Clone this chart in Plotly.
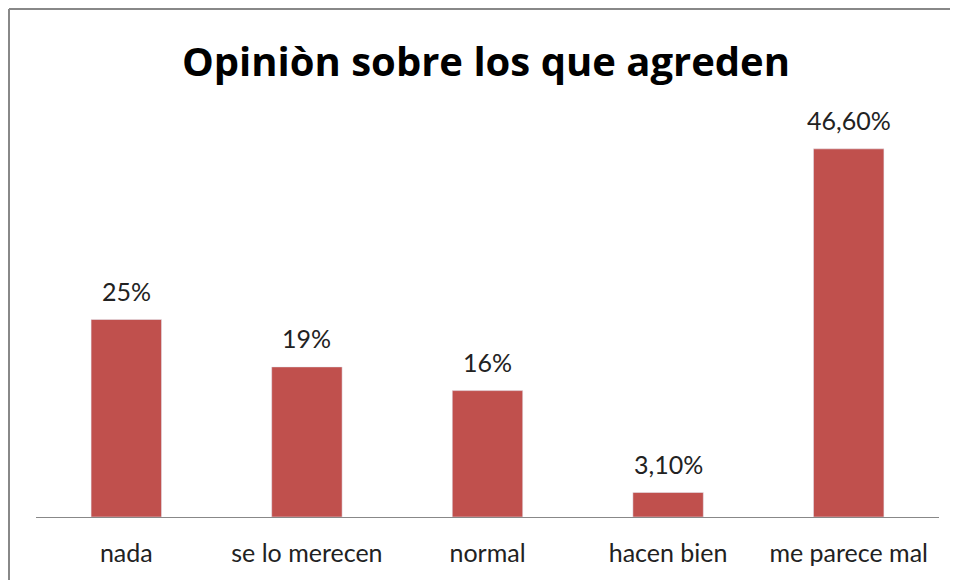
import plotly.graph_objects as go

categories = ["nada", "se lo merecen", "normal", "hacen bien", "me parece mal"]
values = [25, 19, 16, 3.1, 46.6]
labels = ["25%", "19%", "16%", "3,10%", "46,60%"]

FONT = "Lato"
W, H = 958, 580
ML, MR, MT, MB = 28, 27, 114, 71
PW, PH = W - ML - MR, H - MT - MB

fig = go.Figure()
fig.add_trace(go.Bar(
    x=categories, y=values,
    marker_color="#C0504D", width=0.39,
))
for c, v, t in zip(categories, values, labels):
    fig.add_annotation(x=c, y=v, text=t, showarrow=False, yanchor="bottom",
                       yshift=12, font=dict(family=FONT, size=25, color="#222222"))

bx = -(ML - 1) / PW
ty = 1 + (MT - 1) / PH
fig.update_layout(
    width=W, height=H,
    margin=dict(l=ML, r=MR, t=MT, b=MB),
    paper_bgcolor="white", plot_bgcolor="white",
    showlegend=False,
    title=dict(text="<b>Opiniòn sobre los que agreden</b>", x=478 / W, xanchor="center",
               y=1 - 54 / H, yanchor="middle",
               font=dict(family="Open Sans", size=40, color="black")),
    xaxis=dict(showline=True, linecolor="#888888", linewidth=1, ticks="",
               ticklabelstandoff=14,
               tickfont=dict(family=FONT, size=25, color="#222222")),
    yaxis=dict(range=[0, 50], visible=False),
    shapes=[
        dict(type="line", xref="paper", yref="paper", x0=bx, x1=1.1, y0=ty, y1=ty,
             line=dict(color="#888888", width=2)),
        dict(type="line", xref="paper", yref="paper", x0=bx, x1=bx, y0=ty, y1=-0.3,
             line=dict(color="#888888", width=2)),
    ],
)
fig.write_html("out.html")
